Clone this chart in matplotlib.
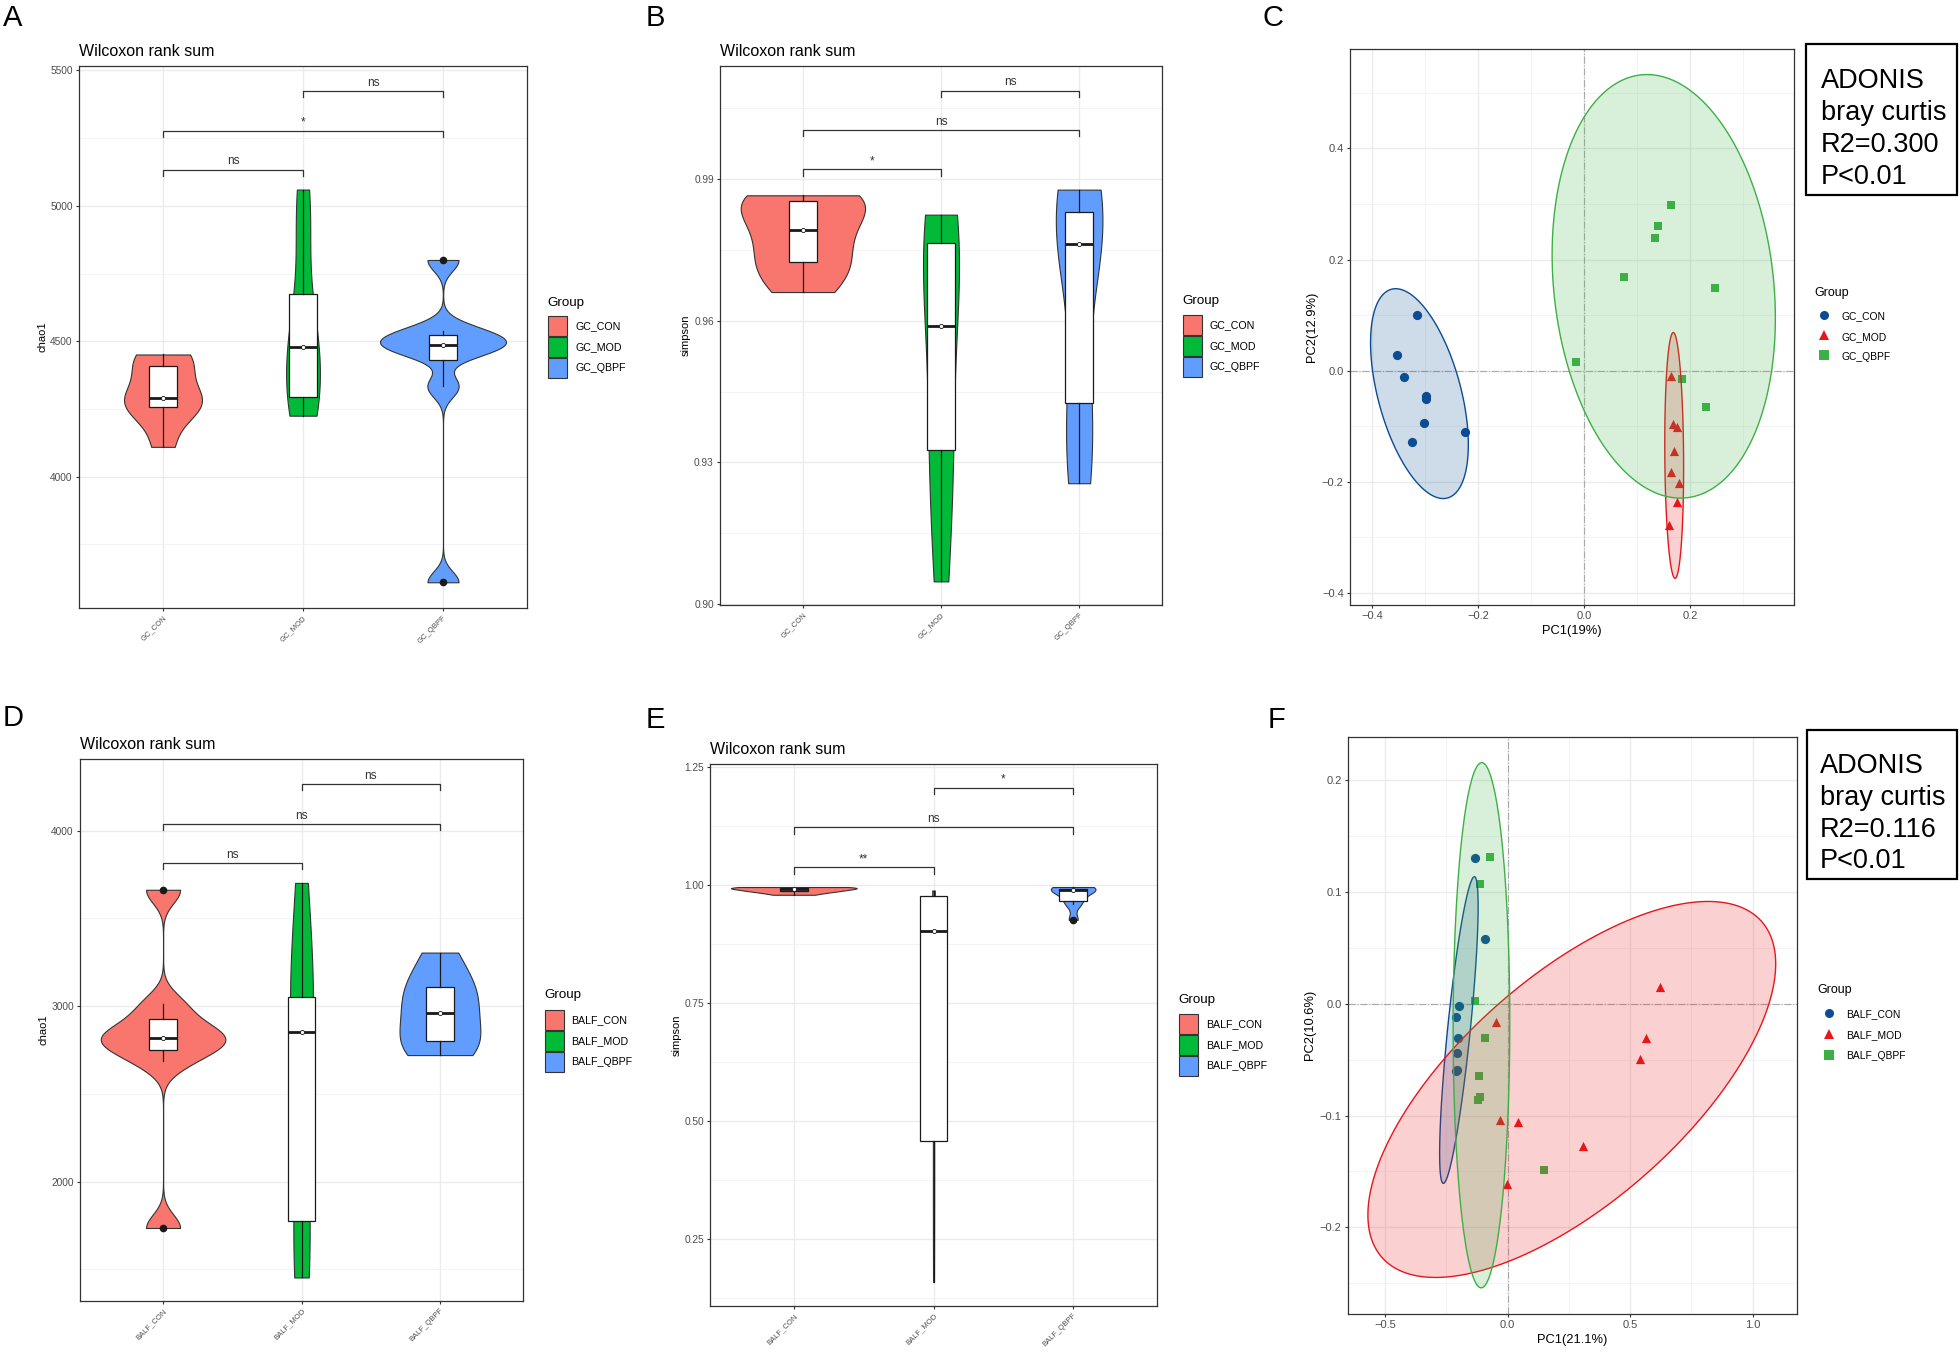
import numpy as np
import matplotlib
matplotlib.use("Agg")
import matplotlib.pyplot as plt
from matplotlib.patches import Patch, Polygon, Rectangle
from matplotlib.lines import Line2D

plt.rcParams['font.family'] = ['Liberation Sans', 'DejaVu Sans']

# ------------------------------------------------------------------ data
gc_groups = ["GC_CON", "GC_MOD", "GC_QBPF"]
balf_groups = ["BALF_CON", "BALF_MOD", "BALF_QBPF"]

gc_chao1_con = [4110, 4250, 4260, 4280, 4300, 4400, 4440, 4451]
gc_chao1_mod = [4225, 4280, 4300, 4450, 4505, 4600, 4890, 5060]
gc_chao1_qbpf = [3610, 4333, 4464, 4475, 4497, 4518, 4538, 4800]

gc_simpson_con = [0.9661, 0.9705, 0.9731, 0.9775, 0.9811, 0.9850, 0.9864, 0.9866]
gc_simpson_mod = [0.9048, 0.9250, 0.9352, 0.9520, 0.9660, 0.9750, 0.9812, 0.9825]
gc_simpson_qbpf = [0.9256, 0.9350, 0.9450, 0.9740, 0.9786, 0.9820, 0.9862, 0.9878]

balf_chao1_con = [1736, 2685, 2774, 2800, 2834, 2897, 3010, 3663]
balf_chao1_mod = [1454, 1700, 1800, 2780, 2926, 3000, 3200, 3702]
balf_chao1_qbpf = [2721, 2760, 2813, 2930, 2994, 3100, 3145, 3305]

balf_simpson_con = [0.980, 0.985, 0.988, 0.990, 0.993, 0.995, 0.996, 0.9964]
balf_simpson_mod = [0.160, 0.400, 0.479, 0.890, 0.915, 0.975, 0.986, 0.989]
balf_simpson_qbpf = [0.927, 0.960, 0.9692, 0.989, 0.990, 0.992, 0.994, 0.9964]

sig_pairs = [(1, 2), (1, 3), (2, 3)]
gc_chao1_sig_y = [5134, 5277, 5425]
gc_chao1_sig_lab = ["ns", "*", "ns"]
gc_simpson_sig_y = [0.99211, 1.00045, 1.00880]
gc_simpson_sig_lab = ["*", "ns", "ns"]
balf_chao1_sig_y = [3817, 4038, 4267]
balf_chao1_sig_lab = ["ns", "ns", "ns"]
balf_simpson_sig_y = [1.0384, 1.1234, 1.2065]
balf_simpson_sig_lab = ["**", "ns", "*"]

gc_pc1_con = [-0.315, -0.352, -0.339, -0.299, -0.298, -0.302, -0.325, -0.225]
gc_pc2_con = [0.101, 0.029, -0.012, -0.046, -0.050, -0.094, -0.128, -0.111]
gc_pc1_mod = [0.164, 0.168, 0.176, 0.170, 0.164, 0.179, 0.175, 0.160]
gc_pc2_mod = [-0.009, -0.095, -0.101, -0.145, -0.182, -0.202, -0.236, -0.277]
gc_pc1_qbpf = [0.164, 0.140, 0.133, 0.075, 0.247, -0.016, 0.185, 0.230]
gc_pc2_qbpf = [0.299, 0.260, 0.239, 0.168, 0.148, 0.015, -0.015, -0.066]

balf_pc1_con = [-0.131, -0.094, -0.200, -0.212, -0.203, -0.207, -0.205, -0.210]
balf_pc2_con = [0.130, 0.058, -0.002, -0.012, -0.031, -0.044, -0.059, -0.060]
balf_pc1_mod = [0.622, 0.565, 0.542, -0.048, -0.030, 0.042, 0.309, -0.004]
balf_pc2_mod = [0.015, -0.031, -0.049, -0.016, -0.104, -0.106, -0.127, -0.161]
balf_pc1_qbpf = [-0.072, -0.111, -0.133, -0.092, -0.118, -0.113, -0.122, 0.148]
balf_pc2_qbpf = [0.131, 0.107, 0.002, -0.031, -0.065, -0.083, -0.086, -0.149]

gc_adonis = ["ADONIS", "bray curtis", "R2=0.300", "P<0.01"]
balf_adonis = ["ADONIS", "bray curtis", "R2=0.116", "P<0.01"]

# ------------------------------------------------------------------ style
VIOLIN_COLORS = ["#F8766D", "#00BA38", "#619CFF"]
PCOA_COLORS = ["#0B4C93", "#E8151B", "#3DB045"]
PCOA_MARKERS = ["o", "^", "s"]
DARK = "#333333"
TICKC = "#4D4D4D"
GRID = "#EBEBEB"

W, H = 1960, 1352
fig = plt.figure(figsize=(W / 100, H / 100), dpi=100)


def add_ax(l, t, r, b):
    return fig.add_axes([l / W, 1 - b / H, (r - l) / W, (b - t) / H])


def fx(x):
    return x / W


def fy(y):
    return 1 - y / H


def base_style(ax):
    for s in ax.spines.values():
        s.set_color(DARK)
        s.set_linewidth(0.9)
    ax.tick_params(direction="out", length=2.5, width=0.8, color=DARK,
                   labelcolor=TICKC, labelsize=7.3, pad=2)
    ax.set_axisbelow(True)


def nrd0(x):
    x = np.asarray(x, float)
    hi = np.std(x, ddof=1)
    q75, q25 = np.percentile(x, [75, 25])
    lo = min(hi, (q75 - q25) / 1.34)
    if lo <= 0:
        lo = hi if hi > 0 else 1.0
    return 0.9 * lo * len(x) ** (-0.2)


def violin_panel(ax, datas, groups, ylim, yticks, yminor, sig_y, sig_lab, ylabel):
    base_style(ax)
    xs = [1, 2, 3]
    grids, dens = [], []
    for d in datas:
        d = np.asarray(d, float)
        g = np.linspace(d.min(), d.max(), 512)
        bw = nrd0(d)
        k = np.exp(-0.5 * ((g[:, None] - d[None, :]) / bw) ** 2).sum(1) / (len(d) * bw * np.sqrt(2 * np.pi))
        grids.append(g)
        dens.append(k)
    m = max(k.max() for k in dens)
    for x, g, k, c in zip(xs, grids, dens, VIOLIN_COLORS):
        half = 0.45 * k / m
        ax.fill_betweenx(g, x - half, x + half, facecolor=c, edgecolor=DARK,
                         linewidth=0.8, zorder=2)
    ax.boxplot(datas, positions=xs, widths=0.2, patch_artist=True, showcaps=False,
               whis=1.5, manage_ticks=False,
               medianprops=dict(color="#1a1a1a", linewidth=2.0),
               boxprops=dict(facecolor="white", edgecolor="#1a1a1a", linewidth=0.9),
               whiskerprops=dict(color="#1a1a1a", linewidth=0.9),
               flierprops=dict(marker="o", markerfacecolor="#1a1a1a",
                               markeredgecolor="#1a1a1a", markersize=4.5),
               zorder=3)
    meds = [np.median(d) for d in datas]
    ax.scatter(xs, meds, s=9, facecolor="white", edgecolor="#1a1a1a",
               linewidths=0.6, zorder=5)
    rng = ylim[1] - ylim[0]
    tip = 0.012 * rng
    for (i, j), y, lab in zip(sig_pairs, sig_y, sig_lab):
        ax.plot([i, i, j, j], [y - tip, y, y, y - tip], color=DARK, lw=0.9, zorder=4)
        ax.annotate(lab, xy=((i + j) / 2, y), xytext=(0, 1.5), textcoords="offset points",
                    ha="center", va="bottom", fontsize=8.5, color="#333333")
    ax.set_xlim(0.4, 3.6)
    ax.set_ylim(*ylim)
    ax.set_yticks(yticks)
    ax.set_yticks(yminor, minor=True)
    ax.tick_params(axis="y", which="minor", length=0)
    ax.set_xticks(xs)
    ax.set_xticklabels(groups, rotation=45, ha="right", rotation_mode="anchor",
                       fontsize=5.5)
    ax.grid(True, which="major", color=GRID, lw=1.0)
    ax.grid(True, which="minor", axis="y", color="#F2F2F2", lw=0.6)
    ax.set_ylabel(ylabel, fontsize=8, labelpad=2)
    ax.set_title("Wilcoxon rank sum", loc="left", fontsize=11.5, pad=7)


def row_height(fpx, hh):
    # height of a legend handle box in matplotlib (handleheight minus descent)
    return fpx * (hh - 0.35 * (hh - 0.7))


def violin_legend(groups, title_xy, key_xy, label_x, key_w=19, key_h=20, step=20.8):
    fig.text(fx(title_xy[0]), fy(title_xy[1]), "Group", fontsize=9.6,
             va="center", ha="left")
    fs = 7.7
    fpx = fs * 100 / 72
    hh = (key_h / fpx - 0.245) / 0.65
    handles = [Patch(facecolor=c, edgecolor=DARK, linewidth=0.8) for c in VIOLIN_COLORS]
    fig.legend(handles, groups, loc="upper left",
               bbox_to_anchor=(fx(key_xy[0]), fy(key_xy[1])), frameon=False,
               borderpad=0, borderaxespad=0, fontsize=fs,
               handlelength=key_w / fpx, handleheight=hh,
               labelspacing=(step - key_h) / fpx,
               handletextpad=(label_x - key_xy[0] - key_w) / fpx)


def cov_trob(x, nu=5, maxit=25, tol=0.01):
    n, p = x.shape
    wt = np.ones(n)
    loc = (wt[:, None] * x).sum(0) / wt.sum()
    w = np.sqrt(wt)
    X = x - loc
    for _ in range(maxit):
        w0 = w
        X = x - loc
        A = np.sqrt(w / w.sum())[:, None] * X
        _, d, Vt = np.linalg.svd(A, full_matrices=False)
        wX = X @ Vt.T @ np.diag(1 / d)
        Q = (wX ** 2).sum(1)
        w = (wt * (nu + p)) / (nu + Q)
        loc = (w[:, None] * x).sum(0) / w.sum()
        if np.all(np.abs(w - w0) < tol):
            break
    sw = np.sqrt(w)[:, None] * X
    cov = sw.T @ sw / wt.sum()
    return loc, cov


def stat_ellipse(px, py, level=0.95, seg=200):
    x = np.column_stack([px, py]).astype(float)
    center, shape = cov_trob(x)
    R = np.linalg.cholesky(shape).T
    dfd = len(px) - 1
    qf = (dfd / 2) * ((1 - level) ** (-2 / dfd) - 1)
    radius = np.sqrt(2 * qf)
    ang = np.linspace(0, 2 * np.pi, seg)
    circ = np.column_stack([np.cos(ang), np.sin(ang)])
    return center + radius * (circ @ R)


def pcoa_panel(ax, pts, xlim, ylim, xticks, yticks, xminor, yminor, xlabel, ylabel):
    base_style(ax)
    ax.tick_params(labelsize=8)
    for (px, py), c, mk in zip(pts, PCOA_COLORS, PCOA_MARKERS):
        ax.scatter(px, py, marker=mk, s=44 if mk != "s" else 36, color=c,
                   linewidths=0, zorder=3)
    for (px, py), c in zip(pts, PCOA_COLORS):
        poly = stat_ellipse(px, py)
        rgb = matplotlib.colors.to_rgb(c)
        ax.add_patch(Polygon(poly, closed=True, facecolor=rgb + (0.2,),
                             edgecolor=c, linewidth=1.0, zorder=4))
    ax.axvline(0, color="#AAAAAA", lw=0.8, ls="-.", zorder=1)
    ax.axhline(0, color="#AAAAAA", lw=0.8, ls="-.", zorder=1)
    ax.set_xlim(*xlim)
    ax.set_ylim(*ylim)
    ax.set_xticks(xticks)
    ax.set_yticks(yticks)
    ax.set_xticks(xminor, minor=True)
    ax.set_yticks(yminor, minor=True)
    ax.tick_params(which="minor", length=0)
    ax.grid(True, which="major", color=GRID, lw=1.0)
    ax.grid(True, which="minor", color="#F2F2F2", lw=0.6)
    ax.set_xlabel(xlabel, fontsize=9.3, labelpad=3)
    ax.set_ylabel(ylabel, fontsize=9.3, labelpad=3)


def pcoa_legend(groups, title_xy, marker_x, first_row_y, row_step, label_x):
    fig.text(fx(title_xy[0]), fy(title_xy[1]), "Group", fontsize=9, va="center", ha="left")
    fs = 7.4
    fpx = fs * 100 / 72
    hl = 1.4
    hh = 1.5
    rh = row_height(fpx, hh)
    handles = [Line2D([], [], marker=mk, color=c, linestyle="None", markersize=6.5,
                      markeredgewidth=0)
               for c, mk in zip(PCOA_COLORS, PCOA_MARKERS)]
    ax_x = marker_x - hl * fpx / 2
    top = first_row_y - rh / 2
    fig.legend(handles, groups, loc="upper left",
               bbox_to_anchor=(fx(ax_x), fy(top)), frameon=False,
               borderpad=0, borderaxespad=0, fontsize=fs,
               handlelength=hl, handleheight=hh,
               labelspacing=(row_step - rh) / fpx,
               handletextpad=(label_x - ax_x - hl * fpx) / fpx)


def adonis_box(lines, box, x_text, baselines):
    l, t, r, b = box
    fig.add_artist(Rectangle((fx(l), fy(b)), (r - l) / W, (b - t) / H,
                             transform=fig.transFigure, fill=False,
                             edgecolor="black", linewidth=1.6))
    for s, yb in zip(lines, baselines):
        fig.text(fx(x_text), fy(yb), s, fontsize=19.5, va="baseline", ha="left")


# ------------------------------------------------------------------ panels
axA = add_ax(79, 65.5, 527, 608)
violin_panel(axA, [gc_chao1_con, gc_chao1_mod, gc_chao1_qbpf], gc_groups,
             (3515, 5518), [4000, 4500, 5000, 5500], [3750, 4250, 4750, 5250],
             gc_chao1_sig_y, gc_chao1_sig_lab, "chao1")
violin_legend(gc_groups, (547, 302.7), (548, 316), 575)

axB = add_ax(720, 65.5, 1162, 605)
violin_panel(axB, [gc_simpson_con, gc_simpson_mod, gc_simpson_qbpf], gc_groups,
             (0.8998, 1.0141), [0.90, 0.93, 0.96, 0.99], [0.915, 0.945, 0.975, 1.005],
             gc_simpson_sig_y, gc_simpson_sig_lab, "simpson")
axB.set_yticklabels(["0.90", "0.93", "0.96", "0.99"])
violin_legend(gc_groups, (1182, 301.4), (1183, 315), 1209)

axC = add_ax(1350, 49, 1794, 604.5)
pcoa_panel(axC, [(gc_pc1_con, gc_pc2_con), (gc_pc1_mod, gc_pc2_mod), (gc_pc1_qbpf, gc_pc2_qbpf)],
           (-0.4415, 0.396), (-0.4207, 0.579), [-0.4, -0.2, 0.0, 0.2],
           [-0.4, -0.2, 0.0, 0.2, 0.4], [-0.3, -0.1, 0.1, 0.3],
           [-0.3, -0.1, 0.1, 0.3, 0.5], "PC1(19%)", "PC2(12.9%)")
pcoa_legend(gc_groups, (1814, 293), 1824, 316, 20.3, 1841.6)
adonis_box(gc_adonis, (1806, 43.5, 1957, 195), 1821, [88, 120, 152, 184])

axD = add_ax(80, 759, 523, 1301)
violin_panel(axD, [balf_chao1_con, balf_chao1_mod, balf_chao1_qbpf], balf_groups,
             (1320, 4408), [2000, 3000, 4000], [1500, 2500, 3500],
             balf_chao1_sig_y, balf_chao1_sig_lab, "chao1")
violin_legend(balf_groups, (544, 995.2), (545, 1010), 571.5)

axE = add_ax(710, 764, 1157, 1306)
violin_panel(axE, [balf_simpson_con, balf_simpson_mod, balf_simpson_qbpf], balf_groups,
             (0.109, 1.257), [0.25, 0.50, 0.75, 1.00, 1.25],
             [0.125, 0.375, 0.625, 0.875, 1.125],
             balf_simpson_sig_y, balf_simpson_sig_lab, "simpson")
axE.set_yticklabels(["0.25", "0.50", "0.75", "1.00", "1.25"])
violin_legend(balf_groups, (1178, 1000.3), (1179, 1014), 1206)

axF = add_ax(1348, 737, 1797, 1313.5)
pcoa_panel(axF, [(balf_pc1_con, balf_pc2_con), (balf_pc1_mod, balf_pc2_mod),
                 (balf_pc1_qbpf, balf_pc2_qbpf)],
           (-0.651, 1.181), (-0.277, 0.2385), [-0.5, 0.0, 0.5, 1.0],
           [-0.2, -0.1, 0.0, 0.1, 0.2], [-0.25, 0.25, 0.75],
           [-0.25, -0.15, -0.05, 0.05, 0.15], "PC1(21.1%)", "PC2(10.6%)")
pcoa_legend(balf_groups, (1817.7, 990.5), 1828.6, 1014, 21, 1846)
adonis_box(balf_adonis, (1807, 730, 1957, 879), 1820, [773, 805, 837, 868])

# panel letters
for lab, x, y in [("A", 3, 4), ("B", 646, 4), ("C", 1262, 4),
                  ("D", 3, 704), ("E", 646, 706), ("F", 1268, 706)]:
    fig.text(fx(x), fy(y), lab, fontsize=21, va="top", ha="left")

fig.savefig("out.png", dpi=100, facecolor="white")
